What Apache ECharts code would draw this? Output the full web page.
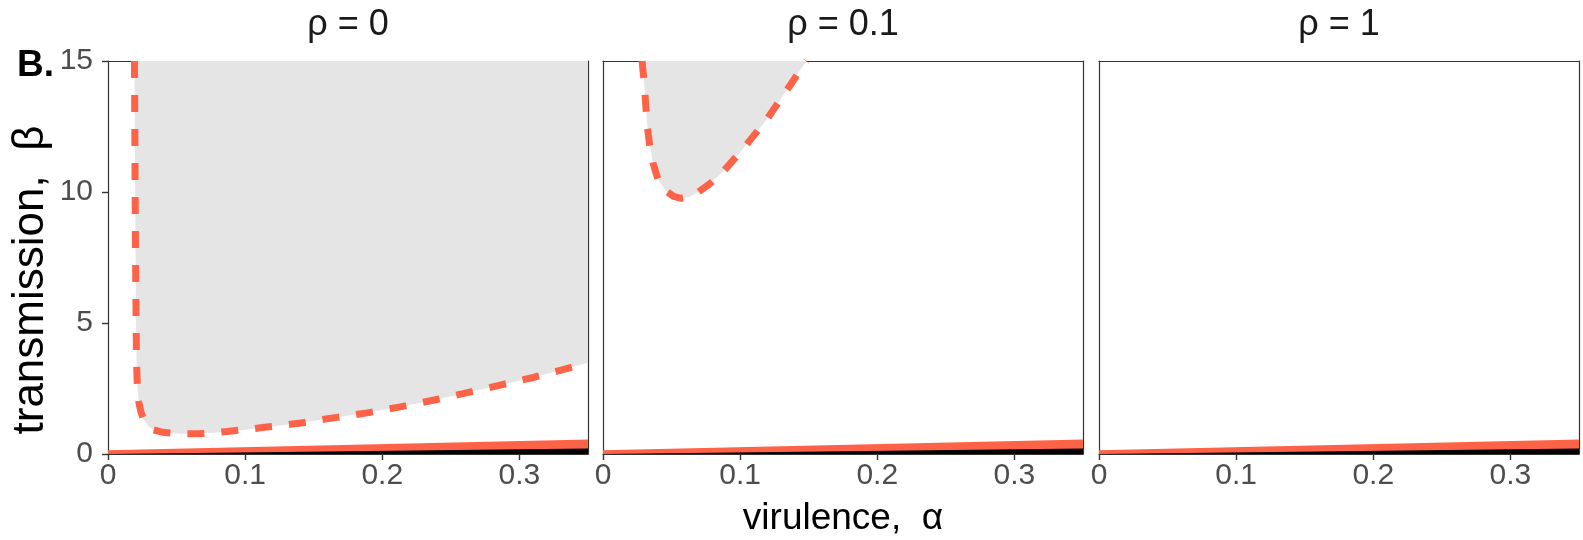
<!DOCTYPE html>
<html>
<head>
<meta charset="utf-8">
<script src="https://cdn.jsdelivr.net/npm/echarts@6/dist/echarts.min.js"></script>
<style>
  html, body { margin: 0; padding: 0; background: #ffffff; }
  #chart { width: 1583px; height: 540px; }
</style>
</head>
<body>
<div id="chart"></div>
<script>
// Facet labels and axis ticks
const panelTitles = ['ρ = 0', 'ρ = 0.1', 'ρ = 1'];
const xTicks = [0, 0.1, 0.2, 0.3];
const yTicks = [0, 5, 10, 15];

// Boundary of the shaded region, ρ = 0
const alphaRho0 = [0.0193, 0.0196, 0.0199, 0.0202, 0.0205, 0.0208, 0.0214, 0.0224, 0.0240,
  0.0262, 0.0292, 0.0330, 0.0400, 0.0480, 0.0560, 0.0650, 0.0750, 0.0870, 0.1000, 0.1140,
  0.1390, 0.1630, 0.1890, 0.2130, 0.2380, 0.2620, 0.2860, 0.3100, 0.3350, 0.3500];
const betaRho0 = [15, 12, 9, 7, 5, 3.5, 2.6, 2.0, 1.6,
  1.3, 1.07, 0.93, 0.83, 0.79, 0.77, 0.77, 0.80, 0.86, 0.93, 1.02,
  1.17, 1.37, 1.57, 1.80, 2.06, 2.34, 2.63, 2.92, 3.27, 3.48];

// Boundary of the shaded region, ρ = 0.1
const alphaRho01 = [0.0285, 0.0296, 0.0306, 0.0321, 0.0340, 0.0365, 0.0400, 0.0457, 0.0515,
  0.0570, 0.0630, 0.0690, 0.0780, 0.0875, 0.1030, 0.1190, 0.1340, 0.1460, 0.1485];
const betaRho01 = [15, 14.4, 13.76, 12.61, 11.8, 11.1, 10.5, 10.05, 9.83,
  9.76, 9.82, 9.98, 10.32, 10.77, 11.70, 12.74, 13.88, 14.83, 15];

// Lower bands, identical in every panel
const alphaBand = [0, 0.35];
const bandOrange = [0.14, 0.55];
const bandBlack = [0, 0.21];

const curves = [[alphaRho0, betaRho0], [alphaRho01, betaRho01], null];

const zip = (xs, ys) => xs.map((x, i) => [x, ys[i]]);

const ORANGE = '#FF6347';
const AXIS = '#333333';
const FONT = 'Liberation Sans';
const lefts = [108, 603, 1099];
const gridW = 480, gridTop = 61, gridH = 393;

const grids = [], xAxes = [], yAxes = [], series = [];

lefts.forEach((left, i) => {
  grids.push({
    left: left, top: gridTop, width: gridW, height: gridH,
    containLabel: false, outerBoundsMode: 'none'
  });

  // bottom axis
  xAxes.push({
    type: 'value', gridIndex: i, position: 'bottom', min: 0, max: 0.35,
    axisLine: { show: true, onZero: false, lineStyle: { color: AXIS, width: 1.2 } },
    axisTick: { show: true, length: 6, customValues: xTicks, lineStyle: { color: AXIS, width: 1.4 } },
    axisLabel: {
      customValues: xTicks, fontSize: 30, color: '#4D4D4D', margin: 7,
      fontFamily: FONT, formatter: v => String(v)
    },
    splitLine: { show: false },
    name: i === 1 ? 'virulence,  α' : '',
    nameLocation: 'middle', nameGap: 46,
    nameTextStyle: { fontSize: 37, color: '#000000', fontFamily: FONT }
  });
  // top border axis carrying the facet label
  xAxes.push({
    type: 'value', gridIndex: i, position: 'top', min: 0, max: 0.35,
    axisLine: { show: true, onZero: false, lineStyle: { color: AXIS, width: 1.2 } },
    axisTick: { show: false }, axisLabel: { show: false }, splitLine: { show: false },
    name: panelTitles[i], nameLocation: 'middle', nameGap: 18,
    nameTextStyle: { fontSize: 36, color: '#1A1A1A', fontFamily: FONT }
  });

  // left axis
  yAxes.push({
    type: 'value', gridIndex: i, position: 'left', min: 0, max: 15, interval: 5,
    axisLine: { show: true, onZero: false, lineStyle: { color: AXIS, width: 1.2 } },
    axisTick: { show: i === 0, length: 6, lineStyle: { color: AXIS, width: 1.4 } },
    axisLabel: {
      show: i === 0, fontSize: 30, color: '#4D4D4D', margin: 15,
      fontFamily: FONT
    },
    splitLine: { show: false }
  });
  // right border axis
  yAxes.push({
    type: 'value', gridIndex: i, position: 'right', min: 0, max: 15, interval: 5,
    axisLine: { show: true, onZero: false, lineStyle: { color: AXIS, width: 1.2 } },
    axisTick: { show: false }, axisLabel: { show: false }, splitLine: { show: false }
  });

  const xi = 2 * i, yi = 2 * i;

  // orange band
  series.push({
    type: 'line', xAxisIndex: xi, yAxisIndex: yi, data: zip(alphaBand, bandOrange),
    symbol: 'none', silent: true, z: 3,
    lineStyle: { opacity: 0 },
    areaStyle: { color: ORANGE, opacity: 1, origin: 'start' }
  });
  // black band
  series.push({
    type: 'line', xAxisIndex: xi, yAxisIndex: yi, data: zip(alphaBand, bandBlack),
    symbol: 'none', silent: true, z: 4,
    lineStyle: { opacity: 0 },
    areaStyle: { color: '#000000', opacity: 1, origin: 'start' }
  });

  // shaded region above the dashed boundary
  if (curves[i]) {
    series.push({
      type: 'line', xAxisIndex: xi, yAxisIndex: yi, data: zip(curves[i][0], curves[i][1]),
      symbol: 'none', silent: true, z: 2,
      lineStyle: { color: ORANGE, width: 7, type: [17, 17], cap: 'butt' },
      areaStyle: { color: '#E5E5E5', opacity: 1, origin: 'end' }
    });
  }
});

const chart = echarts.init(document.getElementById('chart'), null, { renderer: 'canvas' });
chart.setOption({
  animation: false,
  backgroundColor: '#ffffff',
  grid: grids,
  xAxis: xAxes,
  yAxis: yAxes,
  series: series,
  graphic: [
    {
      type: 'text', left: 17, top: 47,
      style: { text: 'B.', fontSize: 37, fontWeight: 'bold', fill: '#000000', fontFamily: FONT }
    },
    {
      // y-axis title, rotated
      type: 'text', x: 31, y: 280, rotation: Math.PI / 2,
      style: {
        text: 'transmission,  β', fontSize: 44, fill: '#000000', fontFamily: FONT,
        align: 'center', verticalAlign: 'middle'
      }
    }
  ]
});
</script>
</body>
</html>
